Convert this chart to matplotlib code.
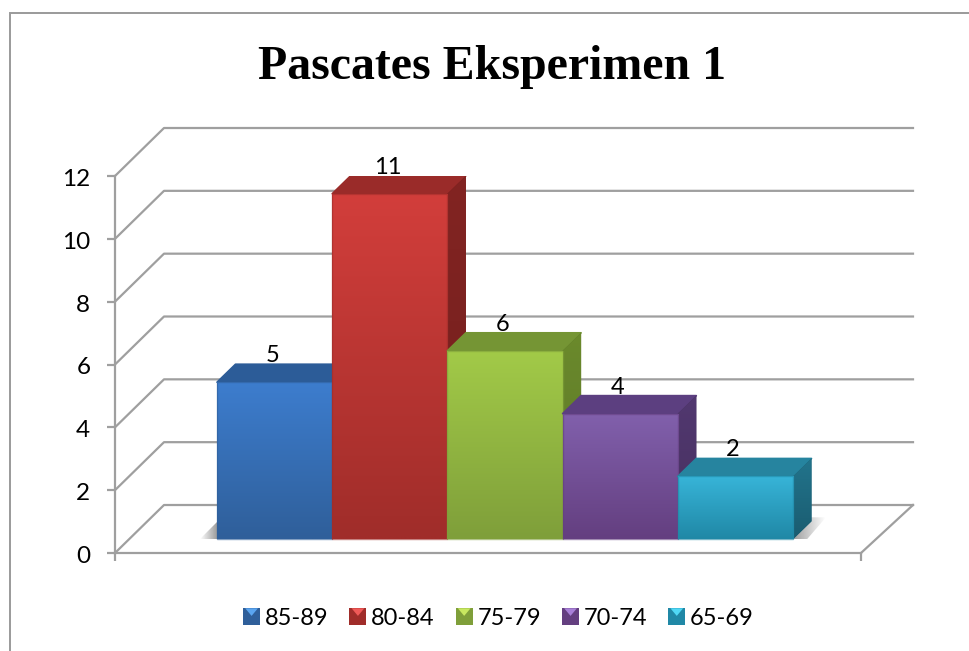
import numpy as np
import matplotlib
matplotlib.use("Agg")
import matplotlib.pyplot as plt
from matplotlib.colors import to_rgb
from matplotlib.legend_handler import HandlerBase
from matplotlib.lines import Line2D
from matplotlib.patches import Patch, Polygon, Rectangle
from matplotlib.transforms import ScaledTranslation

title = "Pascates Eksperimen 1"
series_names = ["85-89", "80-84", "75-79", "70-74", "65-69"]
values = [5, 11, 6, 4, 2]
y_ticks = [0, 2, 4, 6, 8, 10, 12]

front_top = ["#3D7DCE", "#D23E3B", "#A2CA48", "#8160AC", "#37B4D8"]
front_bottom = ["#2F5F9A", "#A02D2A", "#7F9F3A", "#643F80", "#2088A6"]
top_face = ["#2C5C98", "#9A2B29", "#759534", "#5C3F80", "#26849F"]
side_top = ["#2A5288", "#822422", "#6B8A2C", "#523870", "#22748C"]
side_bottom = ["#204068", "#731F1D", "#5A7428", "#45305E", "#1A5C70"]
swatch_light = ["#5AA5F0", "#F05A58", "#C8E860", "#A880D8", "#50D8F5"]

W, H = 970, 651
PX_X = 115.2
PX_Y = 31.42
GRID = "#9F9F9F"

plt.rcParams["font.family"] = ["Lato", "DejaVu Sans"]
fig = plt.figure(figsize=(W / 100, H / 100), dpi=100, facecolor="white")
ax = fig.add_axes([115 / W, (H - 553) / H, 746 / W, 377 / H])
ax.patch.set_alpha(0)

x_left = -102 / PX_X
x_right = x_left + 746 / PX_X
wall_dx = 49 / PX_X
wall_dy = 48 / PX_Y
base = 13.7 / PX_Y
depth_x = 18.5 / PX_X
depth_y = 18 / PX_Y
x_back_right = 696 / PX_X


def vgrad(c1, c2, n=64):
    a, b = np.array(to_rgb(c1)), np.array(to_rgb(c2))
    t = np.linspace(0, 1, n)[:, None, None]
    return a[None, None, :] * (1 - t) + b[None, None, :] * t


def hfade(reverse=False, n=32):
    img = np.ones((2, n, 4)) * 0.55
    img[..., 3] = np.linspace(0, 0.85, n)
    if reverse:
        img = img[:, ::-1]
    return img


# walls and floor
for t in y_ticks:
    ax.plot([x_left, x_left + wall_dx, x_back_right],
            [t, t + wall_dy, t + wall_dy], color=GRID, lw=1.6, zorder=1,
            clip_on=False, solid_joinstyle="round")
ax.plot([x_right, x_back_right], [0, wall_dy], color=GRID, lw=1.6, zorder=1, clip_on=False)

# floor shadows, soft
sh_l = Polygon([(-17 / PX_X, base), (0, base), (0, base + 17 / PX_Y)], closed=True,
               facecolor="none", edgecolor="none", zorder=2)
ax.add_patch(sh_l)
im = ax.imshow(hfade(), extent=[-17 / PX_X, 0, base, base + 17 / PX_Y], aspect="auto",
               zorder=2, interpolation="bilinear")
im.set_clip_path(sh_l)
sh_r = Polygon([(5, base), (5 + 14 / PX_X, base), (5 + 33 / PX_X, base + 22 / PX_Y),
                (5, base + 22 / PX_Y)], closed=True,
               facecolor="none", edgecolor="none", zorder=2)
ax.add_patch(sh_r)
im = ax.imshow(hfade(True), extent=[5, 5 + 33 / PX_X, base, base + 22 / PX_Y],
               aspect="auto", zorder=2, interpolation="bilinear")
im.set_clip_path(sh_r)

# bars
for i, v in enumerate(values):
    z = 3 + i
    x0, x1 = i, i + 1
    y1 = v + base
    ax.add_patch(Polygon([(x0, y1), (x1, y1), (x1 + depth_x, y1 + depth_y), (x0 + depth_x, y1 + depth_y)],
                         closed=True, facecolor=top_face[i], edgecolor=top_face[i], lw=1.2,
                         joinstyle="round", zorder=z - 0.1))
    side = Polygon([(x1, base), (x1, y1), (x1 + depth_x, y1 + depth_y), (x1 + depth_x, base + depth_y)],
                   closed=True, facecolor=side_bottom[i], edgecolor="none", zorder=z + 0.0)
    ax.add_patch(side)
    im2 = ax.imshow(vgrad(side_top[i], side_bottom[i]),
                    extent=[x1, x1 + depth_x, base, y1 + depth_y],
                    aspect="auto", origin="upper", zorder=z + 0.05, interpolation="bilinear")
    im2.set_clip_path(side)
    bars = ax.bar(i + 0.5, v, width=1, bottom=base, color=front_bottom[i],
                  edgecolor="none", zorder=z + 0.1)
    im = ax.imshow(vgrad(front_top[i], front_bottom[i]), extent=[x0, x1, base, y1],
                   aspect="auto", origin="upper", zorder=z + 0.2, interpolation="bilinear")
    im.set_clip_path(bars[0])
    ax.add_patch(Rectangle((x0, base), 1, v, fill=False, edgecolor=front_bottom[i],
                           lw=1.0, alpha=0.6, zorder=z + 0.3))

# data labels
for i, v in enumerate(values):
    ax.annotate(str(v), (i + 0.5, v + base), xytext=(-1.7, 11.5), textcoords="offset points",
                ha="center", va="bottom", fontsize=17, color="black", zorder=20,
                annotation_clip=False)

ax.set_xlim(x_left, x_right)
ax.set_ylim(0, 12)
ax.set_xticks([x_left, x_right])
ax.set_xticklabels(["", ""])
ax.set_yticks(y_ticks)
ax.tick_params(axis="y", length=5.8, width=1.6, color=GRID, labelsize=17.5, pad=12, labelcolor="black")
ax.tick_params(axis="x", length=5.8, width=1.6, color=GRID)
for s in ("top", "right"):
    ax.spines[s].set_visible(False)
for s in ("left", "bottom"):
    ax.spines[s].set_color(GRID)
    ax.spines[s].set_linewidth(1.6)
down = ScaledTranslation(0, -1.5 / 100, fig.dpi_scale_trans)
for lab in ax.get_yticklabels():
    lab.set_transform(lab.get_transform() + down)

fig.text(492.5 / W, 1 - 67 / H, title, ha="center", va="center", fontsize=34.5,
         fontweight="bold", family="Liberation Serif", color="black")


class Swatch(HandlerBase):
    def create_artists(self, legend, orig, xd, yd, width, height, fontsize, trans):
        s = 12.2
        c = orig.get_facecolor()
        y0 = (height - s) / 2 - yd
        x0 = -xd
        rect = Rectangle((x0, y0), s, s, facecolor=c, edgecolor="none", transform=trans)
        tri = Polygon([(x0 + 1.5, y0 + s), (x0 + s - 1.5, y0 + s), (x0 + s / 2, y0 + s * 0.55)],
                      closed=True, facecolor=orig.get_label_light, edgecolor="none", transform=trans)
        return [rect, tri]


handles = []
for c, l, n in zip(front_bottom, swatch_light, series_names):
    h = Patch(facecolor=c, label=n)
    h.get_label_light = l
    handles.append(h)
leg = fig.legend(handles=handles, loc="center", bbox_to_anchor=(498.5 / W, 1 - 618.5 / H),
                 ncol=5, frameon=False, fontsize=17, handler_map={Patch: Swatch()},
                 handlelength=0.72, handleheight=0.72, handletextpad=0.2, columnspacing=0.89,
                 borderpad=0, borderaxespad=0)

# outer chart border: only the top and left edges are inside the picture
fig.add_artist(Line2D([10.5 / W, 10.5 / W, 1], [0, 1 - 13 / H, 1 - 13 / H], color="#9A9A9A", lw=1.4,
                      transform=fig.transFigure, solid_joinstyle="miter"))

fig.savefig("out.png", dpi=100)
